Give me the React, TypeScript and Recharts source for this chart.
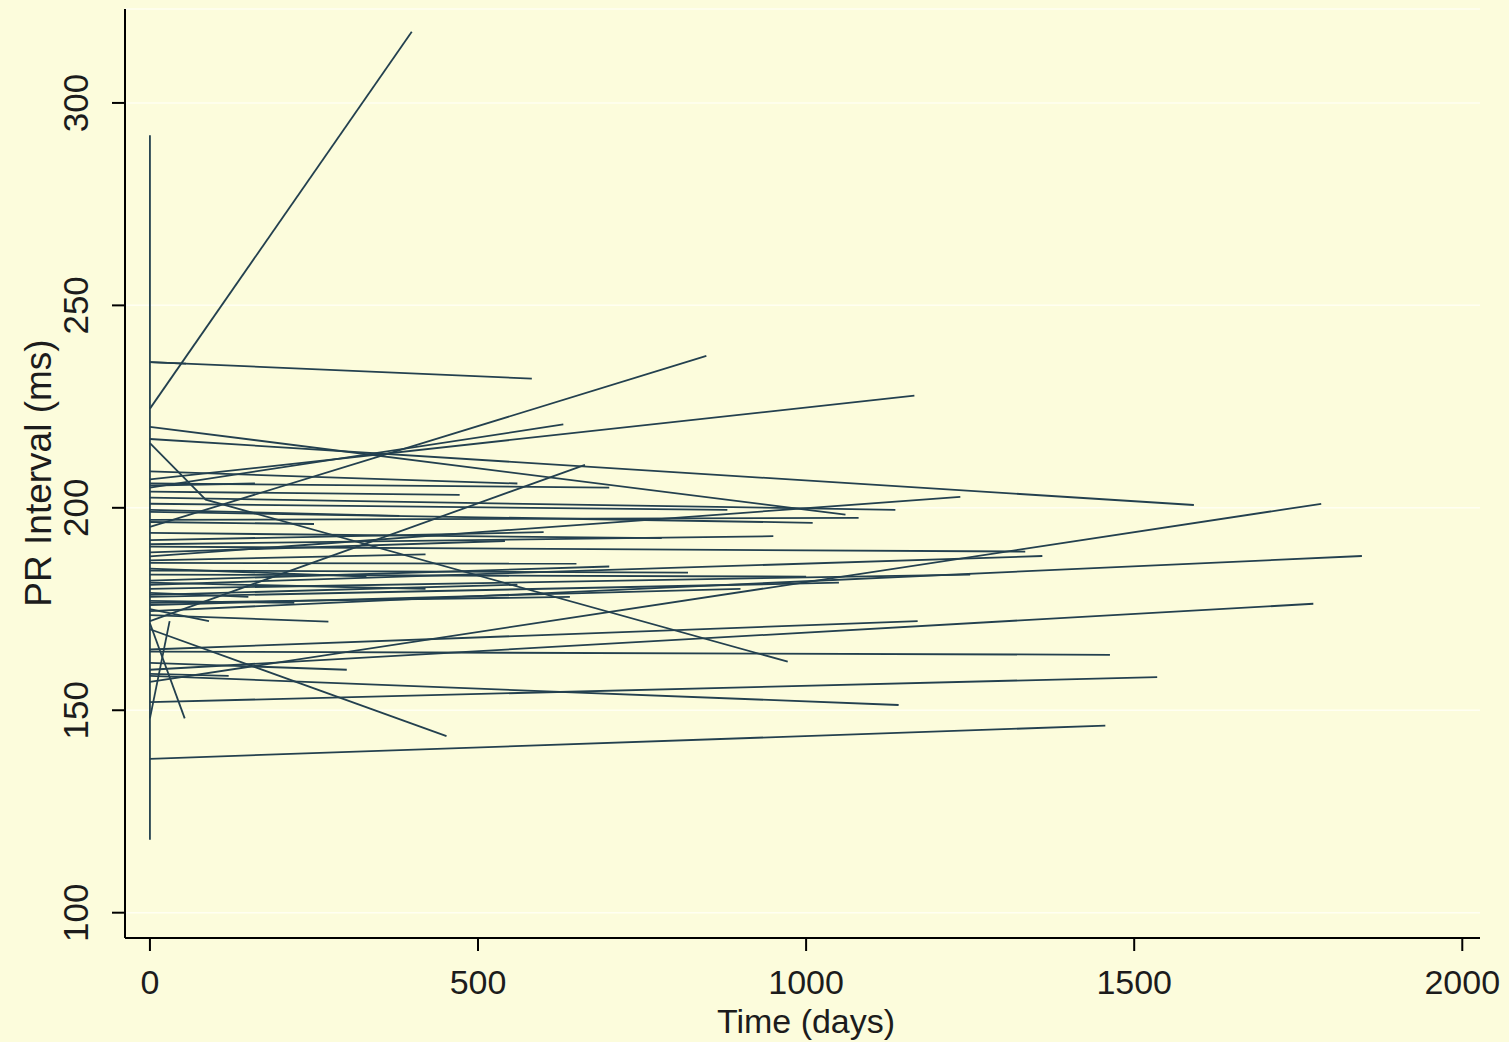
import React from "react";
import { LineChart, Line, XAxis, YAxis, CartesianGrid } from "recharts";

// one entry per subject: PR at day 0, then day / PR of the last visit
const baselinePR = [
  224.5, 236, 236, 220, 217, 216, 207, 206, 205, 204,
  202.5, 201, 199, 195.3, 193.8, 190.4, 189, 188, 186.4, 185,
  183.5, 181, 180, 178.5, 177, 176, 174.5, 173.5, 172, 171.5,
  170, 165, 164.5, 161.7, 160, 158.5, 157, 152, 148, 138,
  199.5, 192, 187, 182, 179, 196.5, 205.5, 159, 175,
  209, 197, 191, 184.5, 178, 176.5, 181.5,
];
const lastVisitDay = [
  399, 582, 55, 1060, 1591, 972, 1165, 700, 630, 472,
  1136, 880, 1010, 848, 780, 1334, 541, 1235, 650, 330,
  1000, 1360, 1250, 560, 220, 900, 1847, 272, 663, 53,
  452, 1170, 1463, 300, 1773, 1141, 1785, 1535, 30, 1456,
  380, 600, 420, 700, 150, 250, 160, 120, 90,
  560, 1080, 950, 820, 1050, 640, 420,
];
const lastVisitPR = [
  317.6, 231.9, 235.6, 198.3, 200.7, 162, 227.7, 205, 220.6, 203.2,
  199.5, 199.5, 196.3, 237.5, 192.5, 189.2, 191.8, 202.7, 186.2, 183,
  183, 188.1, 183.5, 181, 176.5, 180, 188.1, 171.9, 210.6, 148,
  143.6, 172, 163.7, 160, 176.3, 151.3, 201, 158.2, 172, 146.2,
  198, 194, 188.5, 185.5, 178, 196, 206, 158.5, 172,
  206, 197.5, 193, 184, 181.5, 178, 180,
];
// extra visits between baseline and last visit
const interimVisits = [{ subject: 5, day: 85, pr: 202 }];
// spread of the baseline values, drawn at day 0
const baselineRange = [118, 292];

const dayTicks = [0, 500, 1000, 1500, 2000];
const prTicks = [100, 150, 200, 250, 300];

type Pt = { day: number; pr: number };

const subjects: Pt[][] = baselinePR.map((pr0, i) => {
  const pts: Pt[] = [{ day: 0, pr: pr0 }];
  interimVisits
    .filter((v) => v.subject === i)
    .forEach((v) => pts.push({ day: v.day, pr: v.pr }));
  pts.push({ day: lastVisitDay[i], pr: lastVisitPR[i] });
  return pts;
});
const baselineSpread: Pt[] = baselineRange.map((pr) => ({ day: 0, pr }));

const BG = "#fcfcdc";
const INK = "#1c1c1c";
const LINE = "#23404f";
const FONT = "'Liberation Sans', Arial, sans-serif";

const XTick = (props: any) => (
  <text
    x={props.x}
    y={props.y + 41}
    textAnchor="middle"
    fontSize={34}
    fontFamily={FONT}
    fill={INK}
  >
    {props.payload.value}
  </text>
);

const YTick = (props: any) => (
  <text
    x={76}
    y={props.y}
    transform={`rotate(-90, 76, ${props.y})`}
    textAnchor="middle"
    dominantBaseline="central"
    fontSize={35}
    fontFamily={FONT}
    fill={INK}
  >
    {props.payload.value}
  </text>
);

export default function App() {
  return (
    <div
      style={{
        position: "absolute",
        left: 0,
        top: 0,
        width: 1509,
        height: 1042,
        background: BG,
      }}
    >
      <LineChart
        width={1509}
        height={1042}
        margin={{ top: 9, right: 29, bottom: 0, left: 0 }}
      >
        <CartesianGrid vertical={false} stroke="#fffff2" strokeWidth={1.5} />
        <XAxis
          type="number"
          dataKey="day"
          domain={[-38, 2027]}
          ticks={dayTicks}
          interval={0}
          allowDataOverflow
          height={104}
          tickSize={13}
          axisLine={{ stroke: "#000", strokeWidth: 2 }}
          tickLine={{ stroke: "#000", strokeWidth: 2 }}
          tick={XTick}
          label={() => (
            <text
              x={806}
              y={1033}
              textAnchor="middle"
              fontSize={34}
              fontFamily={FONT}
              fill={INK}
            >
              Time (days)
            </text>
          )}
        />
        <YAxis
          type="number"
          domain={[93.75, 323.2]}
          ticks={prTicks}
          interval={0}
          allowDataOverflow
          width={125}
          tickSize={13}
          axisLine={{ stroke: "#000", strokeWidth: 2 }}
          tickLine={{ stroke: "#000", strokeWidth: 2 }}
          tick={YTick}
          label={() => (
            <text
              x={38}
              y={473}
              transform="rotate(-90, 38, 473)"
              textAnchor="middle"
              dominantBaseline="central"
              fontSize={37}
              fontFamily={FONT}
              fill={INK}
            >
              PR Interval (ms)
            </text>
          )}
        />
        <Line
          data={baselineSpread}
          dataKey="pr"
          type="linear"
          stroke={LINE}
          strokeWidth={1.8}
          dot={false}
          activeDot={false}
          isAnimationActive={false}
        />
        {subjects.map((pts, i) => (
          <Line
            key={i}
            data={pts}
            dataKey="pr"
            type="linear"
            stroke={LINE}
            strokeWidth={1.8}
            dot={false}
            activeDot={false}
            isAnimationActive={false}
          />
        ))}
      </LineChart>
    </div>
  );
}
